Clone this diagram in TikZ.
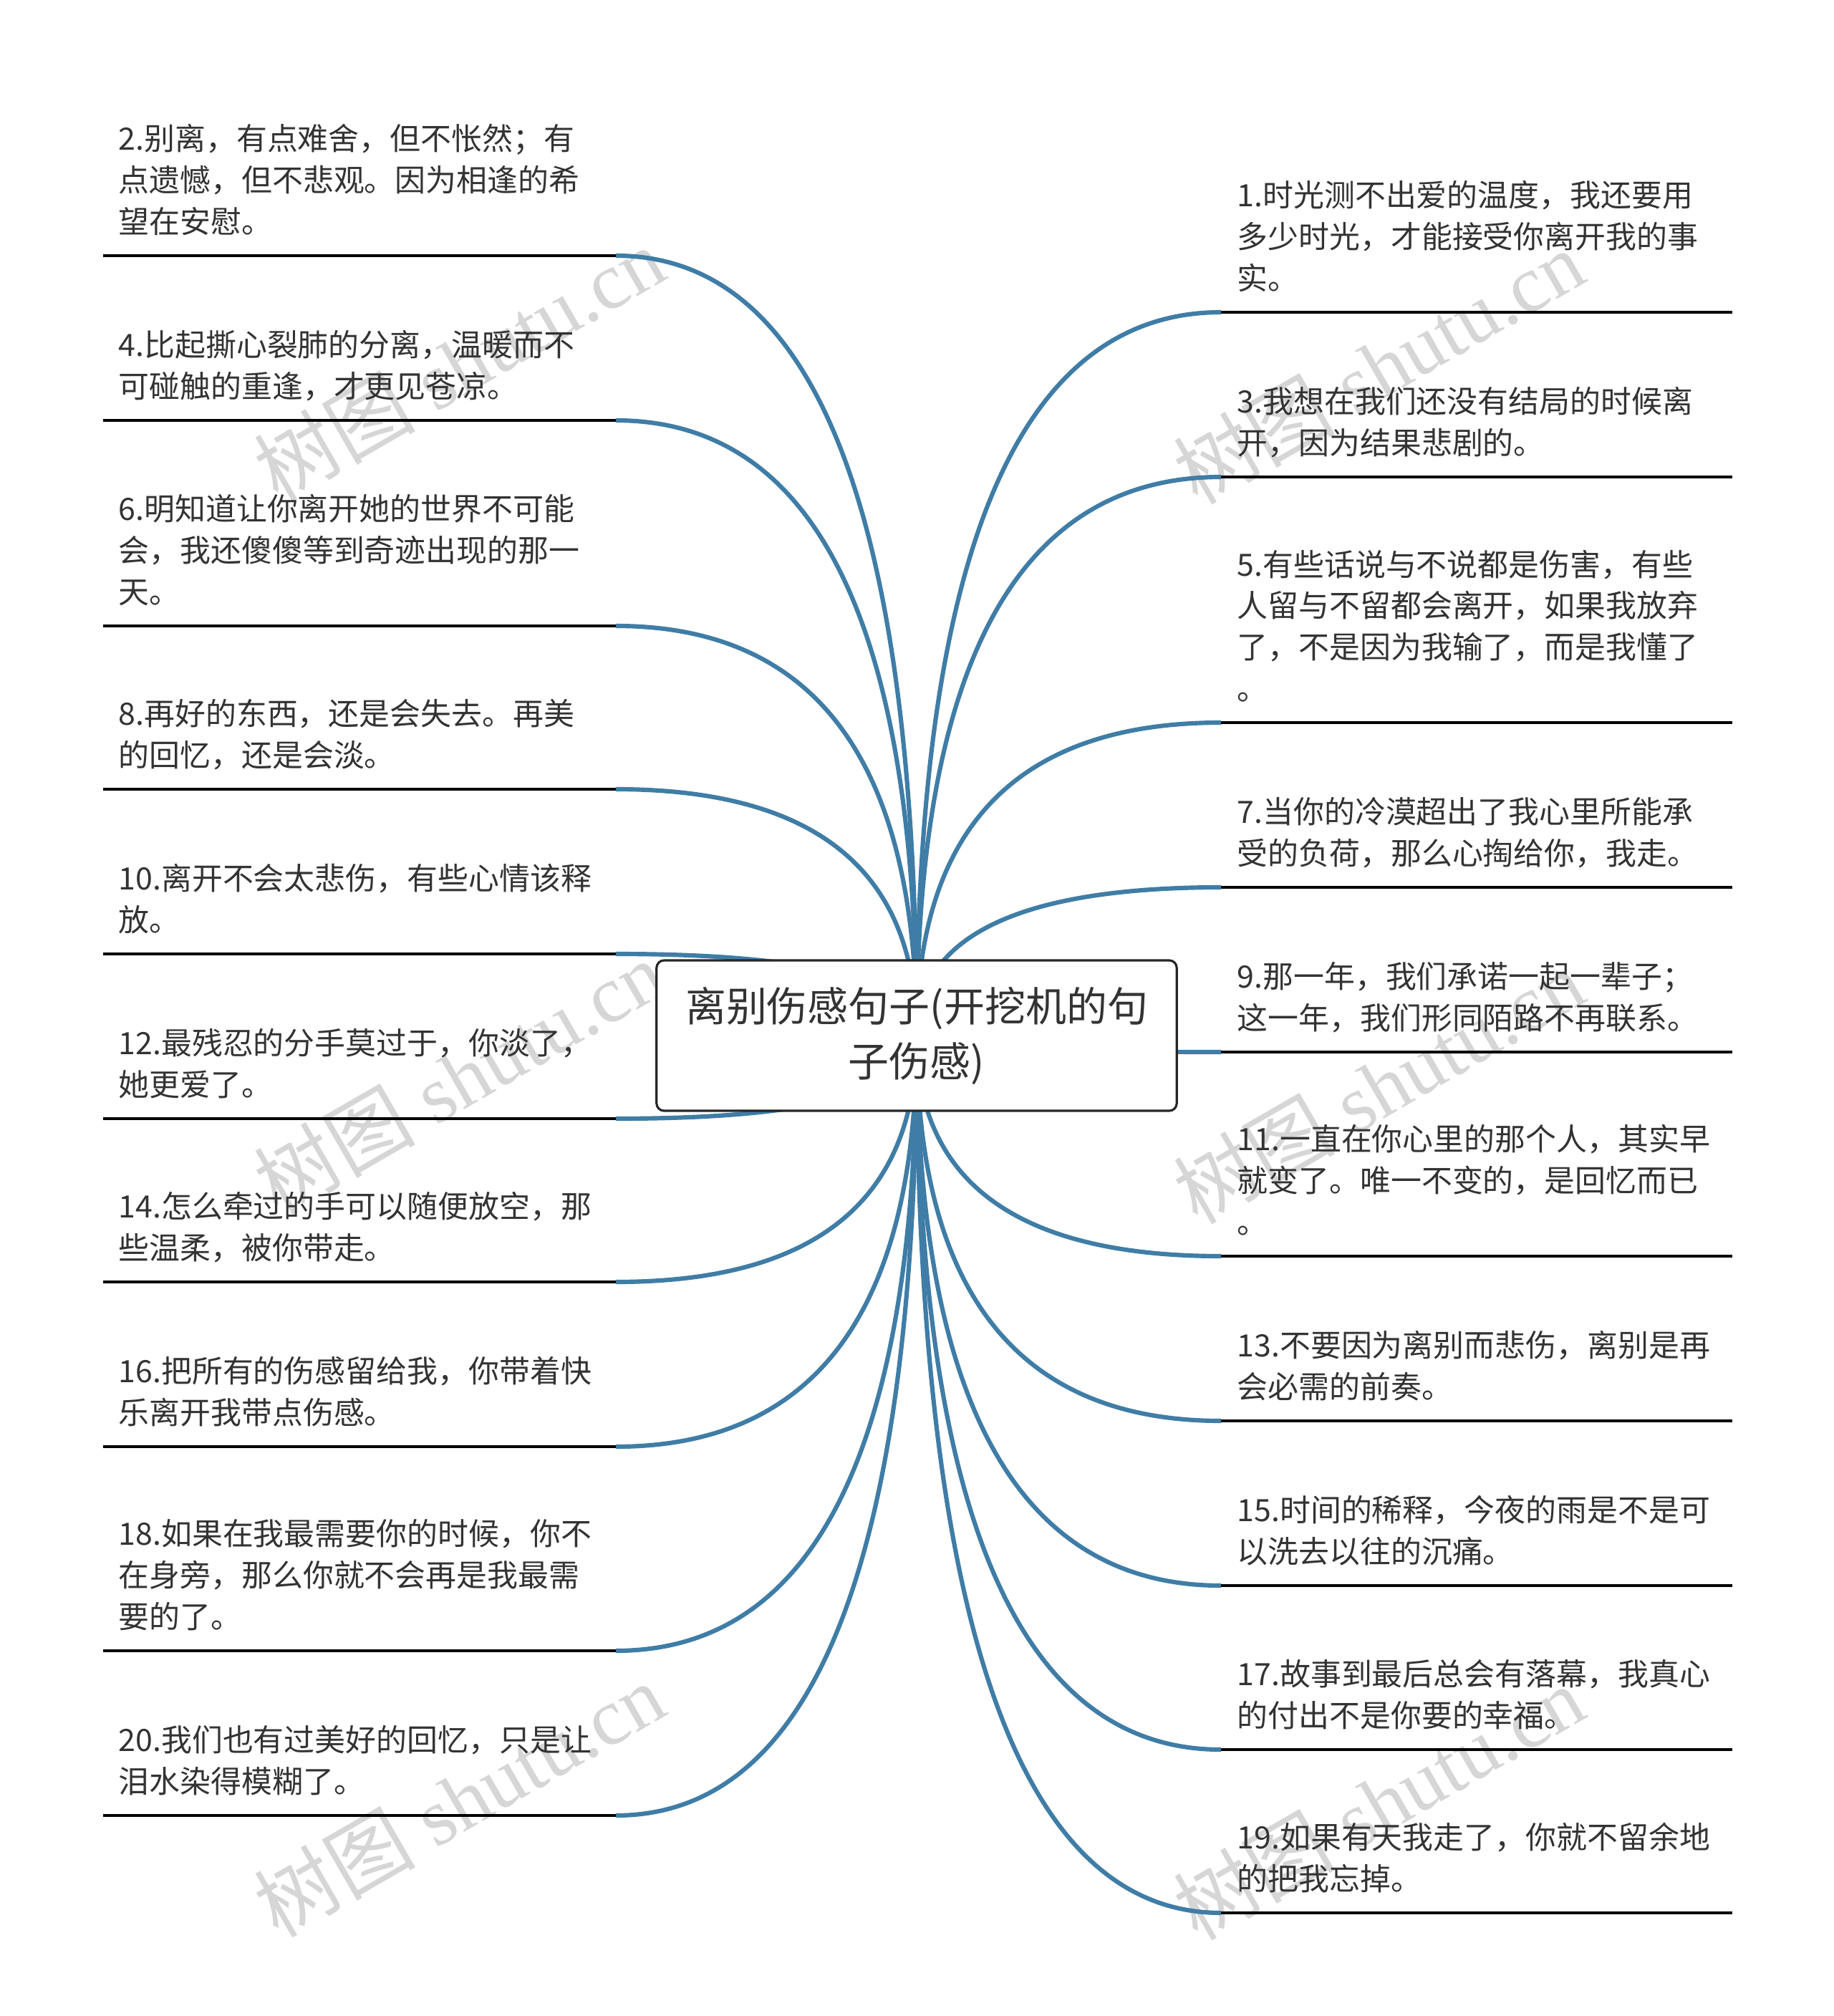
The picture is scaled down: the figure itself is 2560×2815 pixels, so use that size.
\documentclass[tikz,border=0pt]{standalone}
\usepackage{fontspec}
\setmainfont{Liberation Serif}
\newfontfamily\cjk{Noto Sans CJK SC}
\usetikzlibrary{calc,backgrounds}
\definecolor{branch}{HTML}{3F7DA6}
\definecolor{ink}{HTML}{333333}
\definecolor{wmgray}{HTML}{D6D6D6}
\newcommand\leaffont{\fontsize{12.2pt}{16.36pt}\selectfont\cjk}
\newcommand\hubfont{\fontsize{16.2pt}{21.9pt}\selectfont\cjk}

\tikzset{
  leafL/.style={anchor=south west, inner xsep=0.21cm, inner ysep=0.14cm,
    text width=6.72cm, align=left, text=ink, font=\leaffont,
    execute at end node=\strut},
  leafR/.style={leafL, inner xsep=0.22cm, text width=6.68cm},
  hubbox/.style={draw=black!85, line width=0.9pt, fill=white, rounded corners=3pt,
    minimum width=7.26cm, minimum height=2.1cm, align=center, text=ink, font=\hubfont},
  spoke/.style={branch, line width=1.75pt},
  rule/.style={black, line width=1.1pt},
  wmark/.style={text=wmgray, rotate=30, font=\fontsize{32pt}{36pt}\selectfont}
}

\begin{document}
\begin{tikzpicture}[x=0.01cm, y=-0.01cm]
  \useasboundingbox (0,0) rectangle (2560,2815);

  % root
  \node[hubbox] (hub) at (1280,1446) {离别伤感句子(开挖机的句\\子伤感)};

  % left column
  \node[leafL] (l2) at (144,357) {2.别离，有点难舍，但不怅然；有\\点遗憾，但不悲观。因为相逢的希\\望在安慰。};
  \node[leafL] (l4) at (144,587) {4.比起撕心裂肺的分离，温暖而不\\可碰触的重逢，才更见苍凉。};
  \node[leafL] (l6) at (144,874) {6.明知道让你离开她的世界不可能\\会，我还傻傻等到奇迹出现的那一\\天。};
  \node[leafL] (l8) at (144,1102) {8.再好的东西，还是会失去。再美\\的回忆，还是会淡。};
  \node[leafL] (l10) at (144,1332) {10.离开不会太悲伤，有些心情该释\\放。};
  \node[leafL] (l12) at (144,1562) {12.最残忍的分手莫过于，你淡了，\\她更爱了。};
  \node[leafL] (l14) at (144,1790) {14.怎么牵过的手可以随便放空，那\\些温柔，被你带走。};
  \node[leafL] (l16) at (144,2020) {16.把所有的伤感留给我，你带着快\\乐离开我带点伤感。};
  \node[leafL] (l18) at (144,2305) {18.如果在我最需要你的时候，你不\\在身旁，那么你就不会再是我最需\\要的了。};
  \node[leafL] (l20) at (144,2535) {20.我们也有过美好的回忆，只是让\\泪水染得模糊了。};

  % right column
  \node[leafR] (r1) at (1705,436) {1.时光测不出爱的温度，我还要用\\多少时光，才能接受你离开我的事\\实。};
  \node[leafR] (r3) at (1705,666) {3.我想在我们还没有结局的时候离\\开，因为结果悲剧的。};
  \node[leafR] (r5) at (1705,1009) {5.有些话说与不说都是伤害，有些\\人留与不留都会离开，如果我放弃\\了，不是因为我输了，而是我懂了\\。};
  \node[leafR] (r7) at (1705,1239) {7.当你的冷漠超出了我心里所能承\\受的负荷，那么心掏给你，我走。};
  \node[leafR] (r9) at (1705,1469) {9.那一年，我们承诺一起一辈子；\\这一年，我们形同陌路不再联系。};
  \node[leafR] (r11) at (1705,1754) {11.一直在你心里的那个人，其实早\\就变了。唯一不变的，是回忆而已\\。};
  \node[leafR] (r13) at (1705,1984) {13.不要因为离别而悲伤，离别是再\\会必需的前奏。};
  \node[leafR] (r15) at (1705,2214) {15.时间的稀释，今夜的雨是不是可\\以洗去以往的沉痛。};
  \node[leafR] (r17) at (1705,2443) {17.故事到最后总会有落幕，我真心\\的付出不是你要的幸福。};
  \node[leafR] (r19) at (1705,2671) {19.如果有天我走了，你就不留余地\\的把我忘掉。};

  \foreach \n in {l2,l4,l6,l8,l10,l12,l14,l16,l18,l20,r1,r3,r5,r7,r9,r11,r13,r15,r17,r19}
    \draw[rule] (\n.south west) -- (\n.south east);

  \begin{scope}[on background layer]
    % watermarks
    \node[wmark] (wm1) at (641,508) {{\cjk 树图} shutu.cn};
    \node[wmark] (wm2) at (641,1504) {{\cjk 树图} shutu.cn};
    \node[wmark] (wm3) at (641,2513) {{\cjk 树图} shutu.cn};
    \node[wmark] (wm4) at (1925,512) {{\cjk 树图} shutu.cn};
    \node[wmark] (wm5) at (1925,1517) {{\cjk 树图} shutu.cn};
    \node[wmark] (wm6) at (1925,2517) {{\cjk 树图} shutu.cn};
    % branches
    \foreach \n in {l2,l4,l6,l8,l10,l12,l14,l16,l18,l20}
      \draw[spoke] (\n.south east) .. controls ($(\n.south east)!2/3!(hub.center |- \n.south east)$)
        and ($(hub.center)!2/3!(hub.center |- \n.south east)$) .. (hub.center);
    \foreach \n in {r1,r3,r5,r7,r9,r11,r13,r15,r17,r19}
      \draw[spoke] (\n.south west) .. controls ($(\n.south west)!2/3!(hub.center |- \n.south west)$)
        and ($(hub.center)!2/3!(hub.center |- \n.south west)$) .. (hub.center);
  \end{scope}
\end{tikzpicture}
\end{document}
